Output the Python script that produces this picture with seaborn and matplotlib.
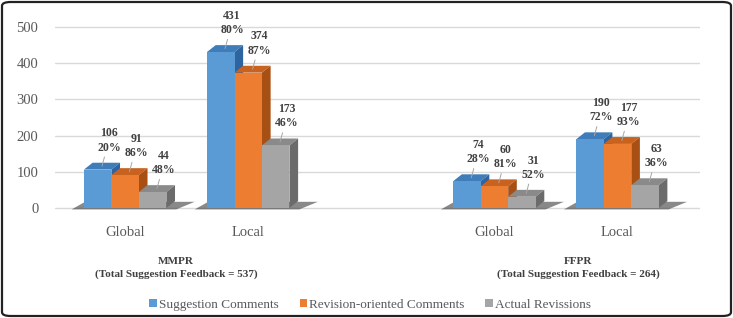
import matplotlib
matplotlib.use("Agg")
import matplotlib.pyplot as plt
import seaborn as sns
import pandas as pd
from matplotlib.patches import Polygon, Patch, FancyBboxPatch

# ---- data ----
slots = ["MMPR Global", "MMPR Local", "", "FFPR Global", "FFPR Local"]
tick_labels = ["Global", "Local", "", "Global", "Local"]
series = ["Suggestion Comments", "Revision-oriented Comments", "Actual Revissions"]
suggestion = [106, 431, 74, 190]
revision = [91, 374, 60, 177]
actual = [44, 173, 31, 63]
pct_suggestion = [20, 80, 28, 72]
pct_revision = [86, 87, 81, 93]
pct_actual = [48, 46, 52, 36]
group_titles = ["MMPR\n(Total Suggestion Feedback = 537)",
                "FFPR\n(Total Suggestion Feedback = 264)"]
yticks = [0, 100, 200, 300, 400, 500]

data_slots = [s for s in slots if s]
rows = []
for vals, pcts, name in [(suggestion, pct_suggestion, series[0]),
                         (revision, pct_revision, series[1]),
                         (actual, pct_actual, series[2])]:
    for s, v, p in zip(data_slots, vals, pcts):
        rows.append({"slot": s, "value": v, "pct": p, "series": name})
df = pd.DataFrame(rows)

front = ["#5B9BD5", "#ED7D31", "#A5A5A5"]
top_c = ["#3F7DBA", "#C9621F", "#8A8A8A"]
side_c = ["#2E64A0", "#A84F14", "#6B6B6B"]

sns.set_theme(style="white")
plt.rcParams["font.family"] = ["Liberation Serif", "DejaVu Serif"]

fig = plt.figure(figsize=(7.33, 3.18), dpi=100)
ax = fig.add_axes([55 / 733, 0.3324, 645 / 733, 0.6053])

sns.barplot(data=df, x="slot", y="value", hue="series", order=slots,
            hue_order=series, palette=front, width=0.67, gap=0,
            legend=False, ax=ax, zorder=3, saturation=1, linewidth=0,
            edgecolor="none")

ax.set_ylim(-12, 520)
ax.set_xlim(-0.57, 4.67)
ax.set_yticks(yticks)
ax.set_xticks(range(len(slots)))
ax.set_xticklabels(tick_labels)
ax.set_xlabel("")
ax.set_ylabel("")
for sp in ax.spines.values():
    sp.set_visible(False)
ax.tick_params(axis="both", length=0, labelsize=10.5, labelcolor="#595959")
ax.tick_params(axis="y", pad=12)
ax.tick_params(axis="x", pad=10)
ax.yaxis.grid(True, color="#D9D9D9", lw=1, zorder=0)
ax.set_axisbelow(True)

dx, dy = 0.07, 19

bars = [p for p in ax.patches]
for i, s in enumerate(data_slots):
    gb = [bars[k * len(data_slots) + i] for k in range(len(series))]
    left = min(b.get_x() for b in gb)
    right = max(b.get_x() + b.get_width() for b in gb)
    ax.add_patch(Polygon([(left - 0.1, -4), (right + 0.08, -4),
                          (right + dx + 0.16, dy - 2), (left + dx - 0.06, dy - 2)],
                         closed=True, fc="#3A3A3A", ec="none", alpha=0.6, zorder=1))

for k in range(len(series)):
    for i in range(len(data_slots)):
        b = bars[k * len(data_slots) + i]
        x0, w, h = b.get_x(), b.get_width(), b.get_height()
        ax.add_patch(Polygon([(x0, h), (x0 + w, h), (x0 + w + dx, h + dy), (x0 + dx, h + dy)],
                             closed=True, fc=top_c[k], ec="none", zorder=2.5))
        ax.add_patch(Polygon([(x0 + w, 0), (x0 + w + dx, dy), (x0 + w + dx, h + dy), (x0 + w, h)],
                             closed=True, fc=side_c[k], ec="none", zorder=2.5))
        row = df[(df.series == series[k]) & (df.slot == data_slots[i])].iloc[0]
        ax.annotate(f"{int(row.value)}\n{int(row.pct)}%",
                    xy=(x0 + w / 2 + dx / 2, h + dy / 2), xytext=(5, 9),
                    textcoords="offset points", ha="center", va="bottom",
                    fontsize=8.5, fontweight="bold", color="#404040",
                    linespacing=1.25, zorder=5,
                    arrowprops=dict(arrowstyle="-", color="#A6A6A6", lw=0.7,
                                    shrinkA=0, shrinkB=0))

fig.text(176 / 733, 1 - 268 / 318, group_titles[0], ha="center", va="center",
         fontsize=8, fontweight="bold", color="#404040", linespacing=1.35)
fig.text(578 / 733, 1 - 268 / 318, group_titles[1], ha="center", va="center",
         fontsize=8, fontweight="bold", color="#404040", linespacing=1.35)

handles = [Patch(fc=c, ec="none") for c in front]
fig.legend(handles, series, loc="center", bbox_to_anchor=(370 / 733, 1 - 305 / 318),
           ncol=3, frameon=False, handlelength=0.55, handleheight=0.55,
           handletextpad=0.15, columnspacing=1.6,
           prop={"family": "Liberation Serif", "size": 9.5}, labelcolor="#595959")

border = FancyBboxPatch((2 / 733, 2 / 318), 729 / 733, 314 / 318,
                        boxstyle="round,pad=0,rounding_size=0.012",
                        transform=fig.transFigure, fill=False, ec="#222222", lw=1.6)
fig.patches.append(border)

fig.savefig("out.png", dpi=100)
